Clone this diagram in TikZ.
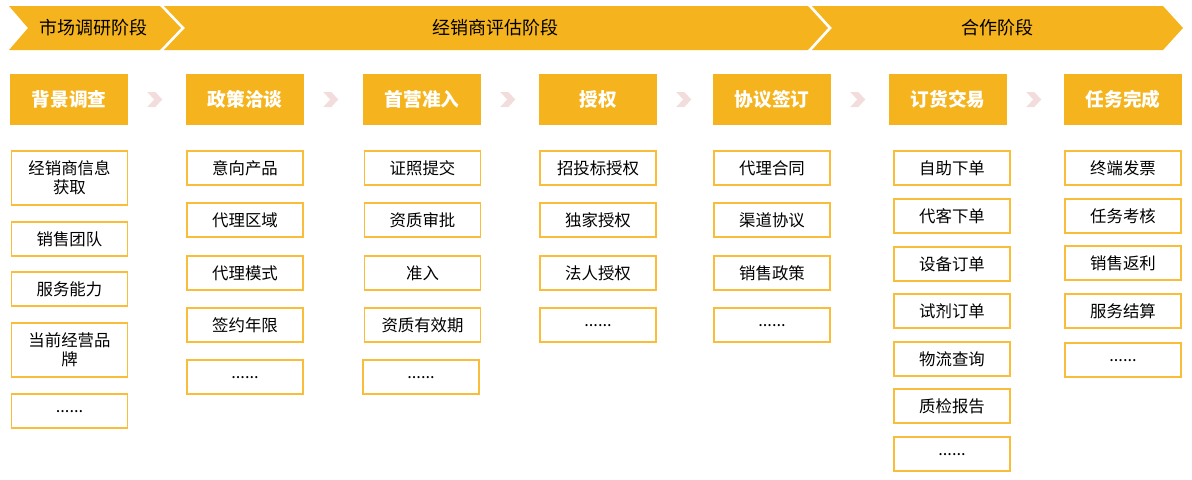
\documentclass[tikz,border=0pt]{standalone}
\usepackage{fontspec}
\setmainfont{Noto Sans CJK SC}
\usetikzlibrary{positioning}

\definecolor{phaseOrange}{HTML}{F5B41E}
\definecolor{itemOrange}{HTML}{F9BD3A}
\definecolor{chevPink}{HTML}{F2DCDC}

\def\stepChevron{\fill[chevPink] (19,-7.5) -- (27,-7.5) -- (34,0) -- (27,7.5) -- (19,7.5) -- (26,0) -- cycle;}

\tikzset{
	stagehead/.style={fill=phaseOrange, text=white, font=\bfseries\fontsize{14}{16}\selectfont, minimum width=88.5pt, minimum height=38.25pt, inner sep=0pt},
	itembox/.style={draw=itemOrange, line width=1.1pt, fill=white, font=\fontsize{12.3}{14.5}\selectfont, minimum width=87pt, minimum height=25.5pt, inner sep=0pt, align=center},
	tallbox/.style={itembox, minimum height=40.5pt},
	morebox/.style={itembox, text depth=-3pt},
	phaselabel/.style={font=\fontsize{13.5}{16}\selectfont}
}

\begin{document}
\begin{tikzpicture}[x=0.75pt, y=-0.75pt]
		\useasboundingbox (0,0) rectangle (1192,479);
		
		% phase bar
		\fill[phaseOrange] (9,6) -- (160,6) -- (181,28) -- (160,50) -- (9,50) -- (28,28) -- cycle;
		\fill[phaseOrange] (164,6) -- (808,6) -- (828,28) -- (808,50) -- (164,50) -- (185,28) -- cycle;
		\fill[phaseOrange] (812,6) -- (1163,6) -- (1183,28) -- (1163,50) -- (812,50) -- (832,28) -- cycle;
		\node[phaselabel] (market) at (93,28) {市场调研阶段};
		\node[phaselabel] (assess) at (495,28) {经销商评估阶段};
		\node[phaselabel] (coop) at (997,28) {合作阶段};
		
		% background survey
		\begin{scope}[shift={(69,0)}]
			\node[stagehead] (bg) at (0,99.5) {背景调查};
			\node[tallbox] (bg1) at (0.5,178) {经销商信息\\获取};
			\node[itembox] (bg2) at (0.5,239) {销售团队};
			\node[itembox] (bg3) at (0.5,289) {服务能力};
			\node[tallbox] (bg4) at (0.5,350) {当前经营品\\牌};
			\node[morebox] (bg5) at (0.5,411) {......};
		\end{scope}
		
		% policy talks
		\begin{scope}[shift={(245,0)}]
			\node[stagehead] (talk) at (0,99.5) {政策洽谈};
			\node[itembox] (talk1) at (0,168) {意向产品};
			\node[itembox] (talk2) at (0,220) {代理区域};
			\node[itembox] (talk3) at (0,273) {代理模式};
			\node[itembox] (talk4) at (0,325) {签约年限};
			\node[morebox] (talk5) at (0,377) {......};
		\end{scope}
		
		% admission
		\begin{scope}[shift={(422,0)}]
			\node[stagehead] (admit) at (0,99.5) {首营准入};
			\node[itembox] (admit1) at (0.5,168) {证照提交};
			\node[itembox] (admit2) at (0.5,220) {资质审批};
			\node[itembox] (admit3) at (0.5,273) {准入};
			\node[itembox] (admit4) at (0.5,325) {资质有效期};
			\node[morebox] (admit5) at (-1,377) {......};
		\end{scope}
		
		% authorization
		\begin{scope}[shift={(598,0)}]
			\node[stagehead] (auth) at (0,99.5) {授权};
			\node[itembox] (auth1) at (0,168) {招投标授权};
			\node[itembox] (auth2) at (0,220) {独家授权};
			\node[itembox] (auth3) at (0,273) {法人授权};
			\node[morebox] (auth4) at (0,325) {......};
		\end{scope}
		
		% agreement
		\begin{scope}[shift={(772,0)}]
			\node[stagehead] (deal) at (0,99.5) {协议签订};
			\node[itembox] (deal1) at (0,168) {代理合同};
			\node[itembox] (deal2) at (0,220) {渠道协议};
			\node[itembox] (deal3) at (0,273) {销售政策};
			\node[morebox] (deal4) at (0,325) {......};
		\end{scope}
		
		% ordering
		\begin{scope}[shift={(948,0)}]
			\node[stagehead] (order) at (0,99.5) {订货交易};
			\node[itembox] (order1) at (4,168) {自助下单};
			\node[itembox] (order2) at (4,216) {代客下单};
			\node[itembox] (order3) at (4,264) {设备订单};
			\node[itembox] (order4) at (4,311) {试剂订单};
			\node[itembox] (order5) at (4,359) {物流查询};
			\node[itembox] (order6) at (4,406) {质检报告};
			\node[morebox] (order7) at (4,454) {......};
		\end{scope}
		
		% task completion
		\begin{scope}[shift={(1123,0)}]
			\node[stagehead] (task) at (0,99.5) {任务完成};
			\node[itembox] (task1) at (0,168) {终端发票};
			\node[itembox] (task2) at (0,216) {任务考核};
			\node[itembox] (task3) at (0,263) {销售返利};
			\node[itembox] (task4) at (0,311) {服务结算};
			\node[morebox] (task5) at (0,360) {......};
		\end{scope}
		
		% step chevrons
		\begin{scope}[shift={(bg.east)}] \stepChevron \end{scope}
		\begin{scope}[shift={(talk.east)}] \stepChevron \end{scope}
		\begin{scope}[shift={(admit.east)}] \stepChevron \end{scope}
		\begin{scope}[shift={(auth.east)}] \stepChevron \end{scope}
		\begin{scope}[shift={(deal.east)}] \stepChevron \end{scope}
		\begin{scope}[shift={(order.east)}] \stepChevron \end{scope}
\end{tikzpicture}
\end{document}
